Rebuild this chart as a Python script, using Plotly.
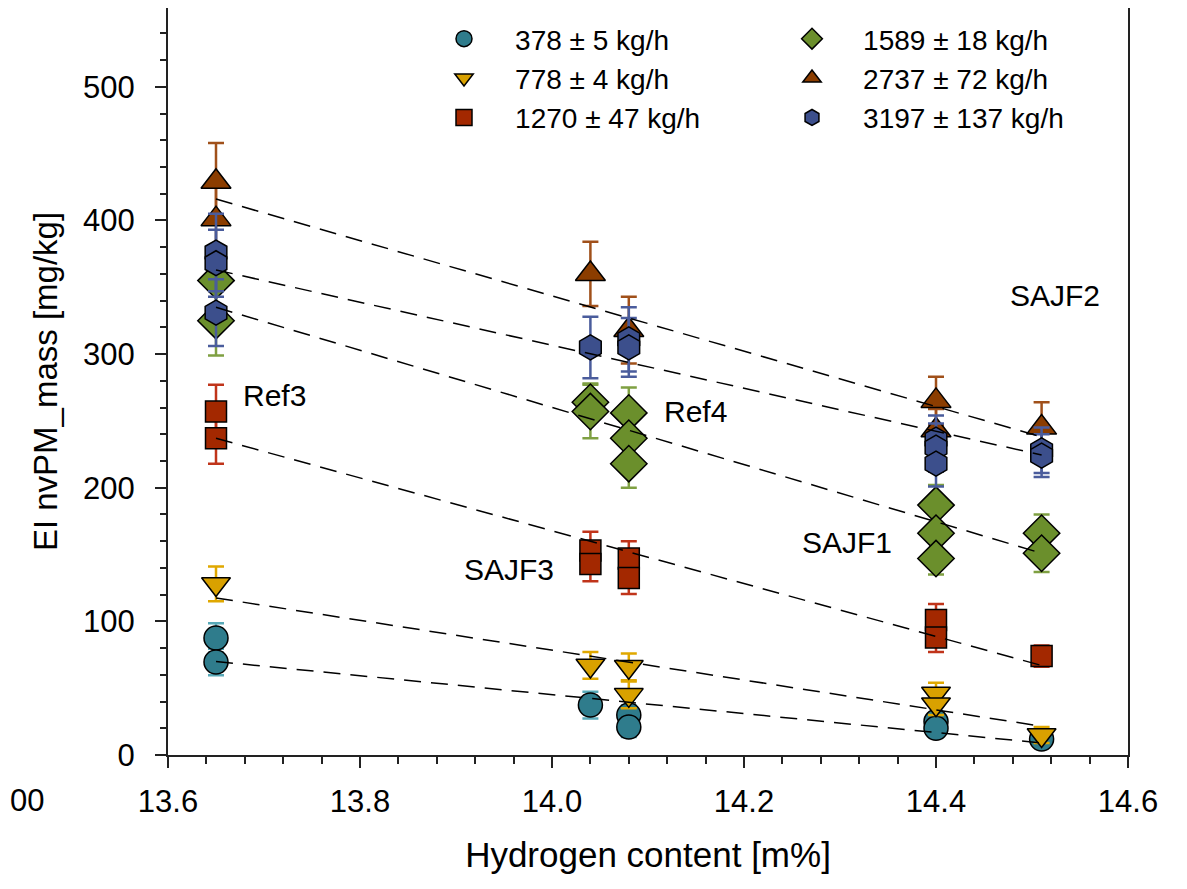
import plotly.graph_objects as go

# ---------------- data ----------------
labels = ["378 ± 5 kg/h", "778 ± 4 kg/h", "1270 ± 47 kg/h",
          "1589 ± 18 kg/h", "2737 ± 72 kg/h", "3197 ± 137 kg/h"]

x_378 = [13.65, 13.65, 14.04, 14.08, 14.08, 14.40, 14.40, 14.51]
y_378 = [87.6, 69.6, 37.4, 30, 21, 25, 20, 12]
e_378 = [11, 10, 10, 7, 7.5, 6, 5, 5]

x_778 = [13.65, 14.04, 14.08, 14.08, 14.40, 14.40, 14.51]
y_778 = [128, 67, 66, 45, 46, 38, 15]
e_778 = [13, 10, 10, 10, 8, 8, 6]

x_1270 = [13.65, 13.65, 14.04, 14.04, 14.08, 14.08, 14.40, 14.40, 14.51]
y_1270 = [257, 237, 153, 143, 147, 132.5, 101, 88, 74]
e_1270 = [20, 19, 14, 13, 13, 12, 12, 11, 8]

x_1589 = [13.65, 13.65, 14.04, 14.04, 14.08, 14.08, 14.08, 14.40, 14.40, 14.40, 14.51, 14.51]
y_1589 = [355, 325, 264, 257, 256, 237, 218, 187, 166, 147, 166, 151]
e_1589 = [20, 26, 14, 20, 19, 18, 18, 15, 15, 12, 14, 14]

x_2737 = [13.65, 13.65, 14.04, 14.08, 14.40, 14.40, 14.51]
y_2737 = [429, 401, 360, 318, 265, 243, 245]
e_2737 = [29, 25, 24, 25, 18, 16, 19]

x_3197 = [13.65, 13.65, 13.65, 14.04, 14.08, 14.08, 14.40, 14.40, 14.40, 14.51, 14.51]
y_3197 = [376, 368, 331, 305, 311, 305, 236, 230, 218, 228, 224]
e_3197 = [29, 25, 25, 23, 24, 22, 18, 18, 17, 17, 16]

# linear fit lines: value at x start / x end
fit_x = [13.65, 14.51]
fit_378 = [70, 9]
fit_778 = [117.5, 21.5]
fit_1270 = [237, 67]
fit_1589 = [335, 151]
fit_2737 = [416, 238]
fit_3197 = [363, 224.5]

text_labels = ["Ref3", "Ref4", "SAJF3", "SAJF1", "SAJF2"]
text_x = [13.711, 14.149, 13.955, 14.307, 14.524]
text_y = [269, 257, 139, 159, 344]

# ---------------- style ----------------
FONT = "Liberation Sans, Arial, sans-serif"
xs = [x_378, x_778, x_1270, x_1589, x_2737, x_3197]
ys = [y_378, y_778, y_1270, y_1589, y_2737, y_3197]
es = [e_378, e_778, e_1270, e_1589, e_2737, e_3197]
fits = [fit_378, fit_778, fit_1270, fit_1589, fit_2737, fit_3197]
symbols = ["circle", "triangle-down", "square", "diamond", "triangle-up", "hexagon"]
sizes = [24, 25, 21, 28, 26, 25]
fills = ["#2f7c8c", "#d9a100", "#a32800", "#6b8f2c", "#8b3d00", "#3c4f8c"]
ecols = ["#58a9b8", "#e0a800", "#c0341a", "#7fa042", "#a0501a", "#4a5c9c"]
legends = ["legend", "legend", "legend", "legend2", "legend2", "legend2"]

fig = go.Figure()
for i in range(6):
    fig.add_trace(go.Scatter(
        x=xs[i], y=ys[i], mode="markers", name="\u00a0\u00a0\u00a0\u00a0" + labels[i],
        legend=legends[i],
        marker=dict(symbol=symbols[i], size=sizes[i], color=fills[i],
                    line=dict(color="black", width=1.5)),
        error_y=dict(type="data", array=es[i], visible=True,
                     color=ecols[i], thickness=2.5, width=8),
    ))
for i in range(6):
    fig.add_trace(go.Scatter(
        x=fit_x, y=fits[i], mode="lines", showlegend=False,
        line=dict(color="black", width=1.5, dash="17px,10px"),
    ))

for t, tx, ty in zip(text_labels, text_x, text_y):
    fig.add_annotation(x=tx, y=ty, text=t, showarrow=False,
                       font=dict(family=FONT, size=30, color="black"))

fig.add_annotation(xref="paper", yref="paper", x=-0.1667, y=-0.061, text="00",
                   showarrow=False, xanchor="left", yanchor="middle",
                   font=dict(family=FONT, size=31, color="black"))

axis_common = dict(showgrid=False, zeroline=False, showline=True, linewidth=2,
                   linecolor="#222", mirror=True, ticks="outside", tickwidth=2,
                   tickcolor="#222", ticklen=11, automargin=False,
                   tickfont=dict(family=FONT, size=31, color="black"))

fig.update_xaxes(range=[13.6, 14.6], tick0=13.6, dtick=0.2, tickformat=".1f",
                 minor=dict(dtick=0.04, ticks="outside", ticklen=7, tickwidth=1.5, tickcolor="#222"),
                 title=dict(text="Hydrogen content [m%]", standoff=24,
                            font=dict(family=FONT, size=35, color="black")),
                 ticklabelstandoff=7,
                 **axis_common)
fig.update_yaxes(range=[0, 559], tick0=0, dtick=100,
                 minor=dict(dtick=20, ticks="outside", ticklen=6, tickwidth=1.5, tickcolor="#222"),
                 title=dict(text="EI nvPM_mass [mg/kg]", standoff=16,
                            font=dict(family=FONT, size=33, color="black")),
                 ticklabelstandoff=14,
                 **axis_common)

legend_common = dict(orientation="v", xanchor="left", yanchor="top", y=0.992,
                     bgcolor="rgba(0,0,0,0)", borderwidth=0,
                     font=dict(family=FONT, size=28, color="black"),
                     itemclick=False)
fig.update_layout(
    width=1187, height=889,
    margin=dict(l=160, r=67, t=0, b=142),
    paper_bgcolor="white", plot_bgcolor="white",
    showlegend=True,
    legend=dict(x=0.2875, **legend_common),
    legend2=dict(x=0.65, **legend_common),
)

fig.write_html("out.html")
